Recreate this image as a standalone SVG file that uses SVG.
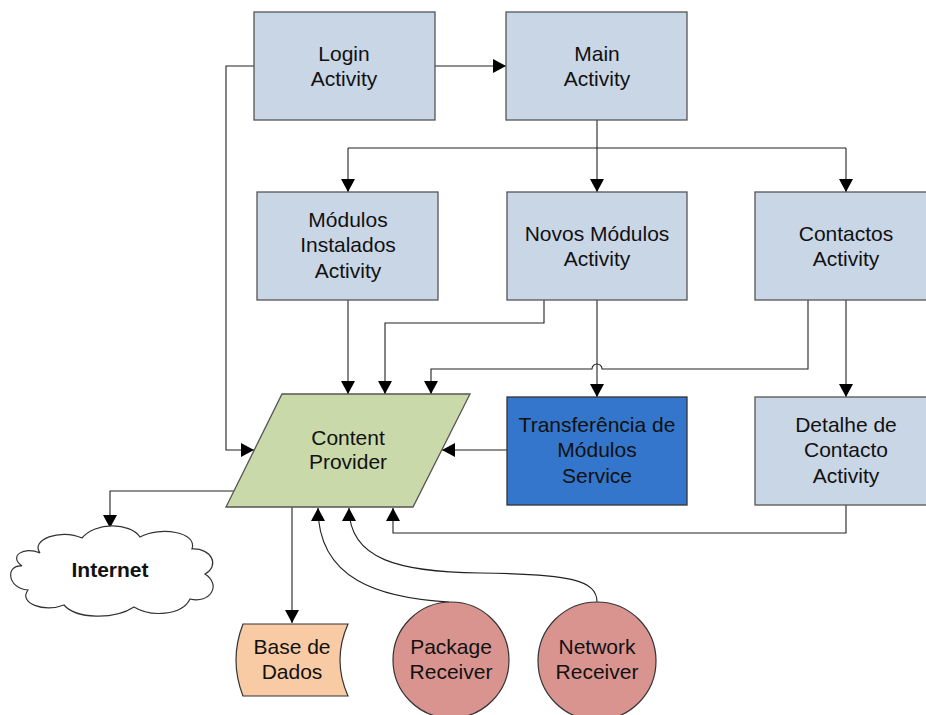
<svg xmlns="http://www.w3.org/2000/svg" width="926" height="715" viewBox="0 0 926 715">
  <style>
    .box { fill: #c9d6e6; stroke: #555555; stroke-width: 1.3; }
    .svc { fill: #3476cc; stroke: #333333; stroke-width: 1.3; }
    .prov { fill: #cad9aa; stroke: #555555; stroke-width: 1.3; }
    .rcv { fill: #da9490; stroke: #333333; stroke-width: 1.2; }
    .db { fill: #f9cba5; stroke: #333333; stroke-width: 1.2; }
    .cloud { fill: #ffffff; stroke: #333333; stroke-width: 1.2; }
    .lbl { font-family: "Liberation Sans", Arial, sans-serif; font-size: 21px; fill: #111111; text-anchor: middle; }
    .bold { font-weight: bold; }
    .wire { fill: none; stroke: #222222; stroke-width: 1.1; }
  </style>
  <defs>
    <marker id="arrow" markerUnits="userSpaceOnUse" markerWidth="14" markerHeight="14" refX="13" refY="7" orient="auto">
      <path d="M0,0 L13,7 L0,14 Z" fill="#000000"/>
    </marker>
  </defs>

  <rect width="926" height="715" fill="#ffffff"/>

  <g id="connectors">
    <path class="wire" d="M435,66 H506" marker-end="url(#arrow)"/>
    <path class="wire" d="M254,66 H226 V450 H254" marker-end="url(#arrow)"/>
    <path class="wire" d="M597,120 V148"/>
    <path class="wire" d="M348,148 H846"/>
    <path class="wire" d="M348,148 V192" marker-end="url(#arrow)"/>
    <path class="wire" d="M597,148 V192" marker-end="url(#arrow)"/>
    <path class="wire" d="M846,148 V192" marker-end="url(#arrow)"/>
    <path class="wire" d="M348,300 V394" marker-end="url(#arrow)"/>
    <path class="wire" d="M544,300 V323 H385 V394" marker-end="url(#arrow)"/>
    <path class="wire" d="M597,300 V397" marker-end="url(#arrow)"/>
    <path class="wire" d="M808,300 V369 H602 A5,5 0 0 0 592,369 H431 V394" marker-end="url(#arrow)"/>
    <path class="wire" d="M846,300 V397" marker-end="url(#arrow)"/>
    <path class="wire" d="M507,450 H442" marker-end="url(#arrow)"/>
    <path class="wire" d="M846,505 V533 H393 V508" marker-end="url(#arrow)"/>
    <path class="wire" d="M234,491 H110 V528" marker-end="url(#arrow)"/>
    <path class="wire" d="M292,507 V623" marker-end="url(#arrow)"/>
    <path class="wire" d="M449,602 C380,598 318,580 318,508" marker-end="url(#arrow)"/>
    <path class="wire" d="M597,602 C597,580 570,574 480,573 C400,572 349,560 349,508" marker-end="url(#arrow)"/>
  </g>

  <g id="login">
    <rect class="box" x="254" y="12" width="181" height="108"/>
    <text class="lbl" x="344" y="61">Login</text>
    <text class="lbl" x="344" y="85.5">Activity</text>
  </g>

  <g id="main">
    <rect class="box" x="506" y="12" width="181" height="108"/>
    <text class="lbl" x="597" y="61">Main</text>
    <text class="lbl" x="597" y="85.5">Activity</text>
  </g>

  <g id="modulos-instalados">
    <rect class="box" x="257" y="192" width="181" height="108"/>
    <text class="lbl" x="348" y="227">Módulos</text>
    <text class="lbl" x="348" y="252">Instalados</text>
    <text class="lbl" x="348" y="278">Activity</text>
  </g>

  <g id="novos-modulos">
    <rect class="box" x="507" y="192" width="180" height="108"/>
    <text class="lbl" x="597" y="241">Novos Módulos</text>
    <text class="lbl" x="597" y="265.5">Activity</text>
  </g>

  <g id="contactos">
    <rect class="box" x="755" y="192" width="181" height="108"/>
    <text class="lbl" x="846" y="241">Contactos</text>
    <text class="lbl" x="846" y="265.5">Activity</text>
  </g>

  <g id="content-provider">
    <polygon class="prov" points="282,394 470,394 413,507 226,507"/>
    <text class="lbl" x="348" y="444.5">Content</text>
    <text class="lbl" x="348" y="469">Provider</text>
  </g>

  <g id="transferencia">
    <rect class="svc" x="507" y="397" width="180" height="108"/>
    <text class="lbl" x="597" y="432">Transferência de</text>
    <text class="lbl" x="597" y="457">Módulos</text>
    <text class="lbl" x="597" y="483">Service</text>
  </g>

  <g id="detalhe-contacto">
    <rect class="box" x="755" y="397" width="181" height="108"/>
    <text class="lbl" x="846" y="432">Detalhe de</text>
    <text class="lbl" x="846" y="457">Contacto</text>
    <text class="lbl" x="846" y="483">Activity</text>
  </g>

  <g id="internet">
    <path class="cloud" d="M40,553 C30,540 60,528 82,538 C95,522 130,522 140,537 C160,526 198,532 192,549 C212,548 220,566 205,574 C222,585 210,604 190,599 C182,616 150,617 134,607 C114,620 76,619 64,605 C44,613 18,603 28,590 C6,588 6,564 22,566 C8,556 24,546 40,553 Z"/>
    <text class="lbl bold" x="110" y="577">Internet</text>
  </g>

  <g id="base-dados">
    <path class="db" d="M243,624 H348 Q332,660 348,696 H243 Q229,660 243,624 Z"/>
    <text class="lbl" x="292" y="654">Base de</text>
    <text class="lbl" x="292" y="679">Dados</text>
  </g>

  <g id="package-receiver">
    <circle class="rcv" cx="451" cy="660" r="58"/>
    <text class="lbl" x="451" y="654">Package</text>
    <text class="lbl" x="451" y="679">Receiver</text>
  </g>

  <g id="network-receiver">
    <circle class="rcv" cx="597" cy="661" r="59"/>
    <text class="lbl" x="597" y="654">Network</text>
    <text class="lbl" x="597" y="679">Receiver</text>
  </g>
</svg>
